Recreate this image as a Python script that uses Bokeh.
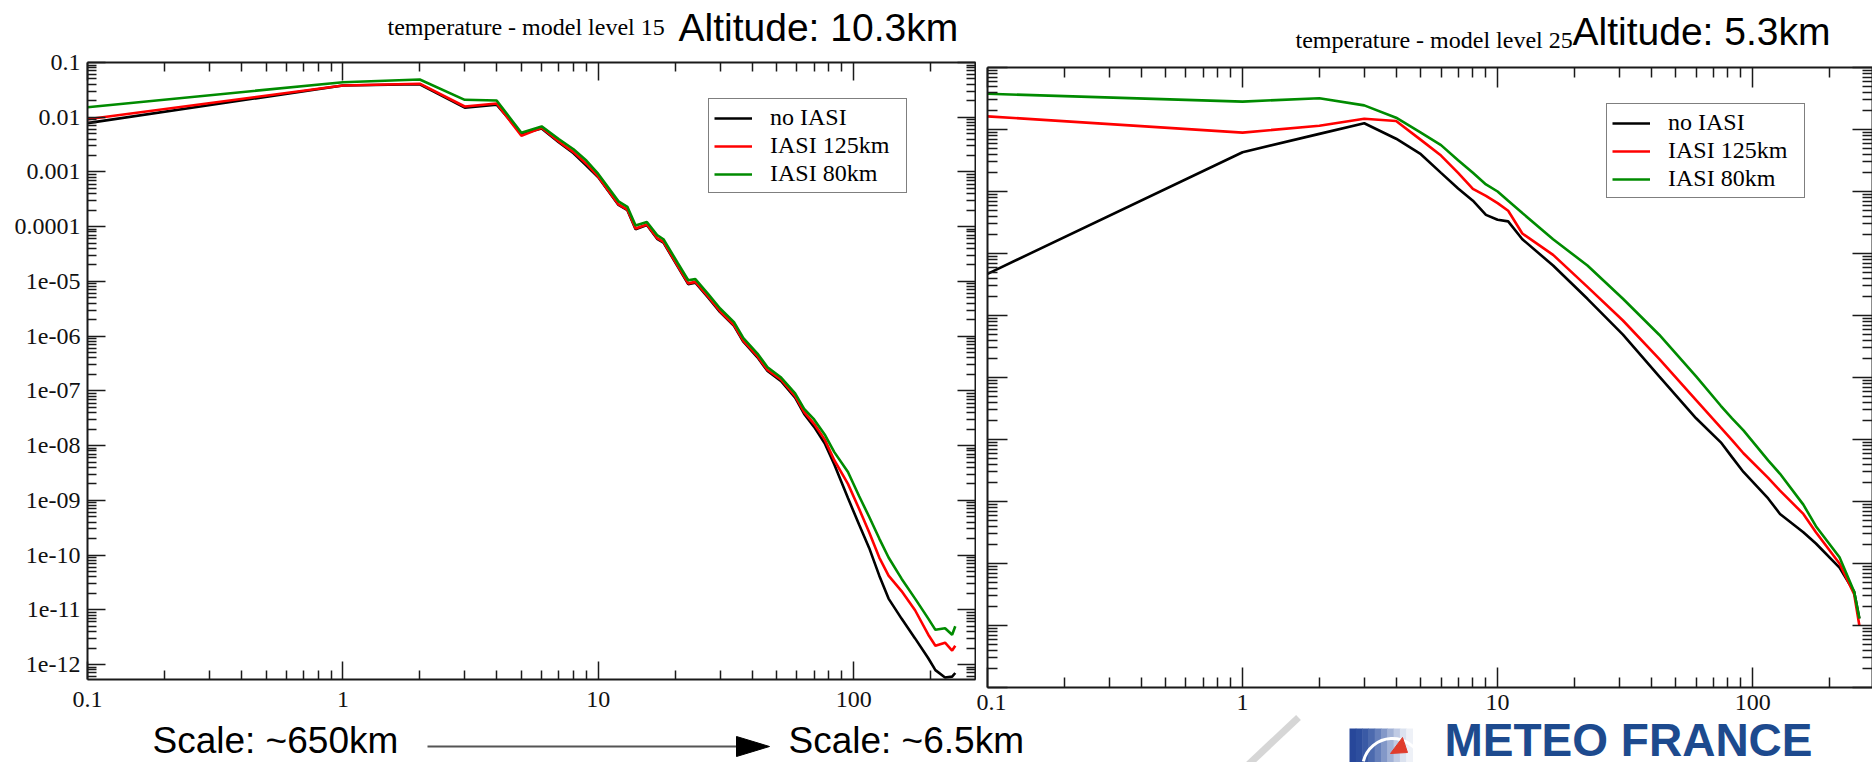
from bokeh.plotting import figure
from bokeh.models import (Range1d, LogAxis, FixedTicker, Legend, LegendItem,
                          CustomJSTickFormatter, CustomLabelingPolicy, GridBox)
from bokeh.embed import file_html
from bokeh.resources import INLINE
from bokeh.core.properties import value

# ---------------- data ----------------
SERIES = ["no IASI", "IASI 125km", "IASI 80km"]
COLORS = ["#000000", "#ff0000", "#008b00"]

X_TICKS = [0.1, 1, 10, 100]
X_LABELS = ["0.1", "1", "10", "100"]
Y_LABELS_L = ["0.1", "0.01", "0.001", "0.0001", "1e-05", "1e-06", "1e-07",
              "1e-08", "1e-09", "1e-10", "1e-11", "1e-12"]
Y_DECADES_R = [0.1, 0.01, 0.001, 1e-4, 1e-5, 1e-6, 1e-7, 1e-8, 1e-9, 1e-10, 1e-11]

TITLE_L = ["temperature - model level 15", "Altitude: 10.3km"]
TITLE_R = ["temperature - model level 25", "Altitude: 5.3km"]
SCALE_TEXT = ["Scale: ~650km", "Scale: ~6.5km"]
LOGO_TEXT = "METEO FRANCE"

# left panel : model level 15
K_L = [0.1, 1, 2, 3, 4, 5, 6, 7, 8, 9, 10,
       12, 13, 14, 15.5, 17, 18, 20.5, 22.5, 24, 27,
       30, 34, 37, 42, 46, 52, 59, 64, 70, 77,
       84, 95, 105, 115, 126, 137, 154, 174, 196, 209,
       228, 243, 250]
L_NO_IASI = [0.0078, 0.038, 0.040, 0.0150, 0.0170, 0.0050, 0.0062, 0.0035, 0.0022, 0.0013, 8.0e-4,
             2.5e-4, 2.0e-4, 9.0e-5, 1.07e-4, 6.0e-5, 5.1e-5, 1.85e-5, 8.9e-6, 9.5e-6, 5.0e-6,
             2.75e-6, 1.55e-6, 7.9e-7, 4.1e-7, 2.3e-7, 1.5e-7, 7.5e-8, 3.8e-8, 2.2e-8, 1.1e-8,
             4.5e-9, 1.1e-9, 3.6e-10, 1.35e-10, 4.2e-11, 1.6e-11, 6.9e-12, 3.0e-12, 1.3e-12, 7.9e-13,
             5.8e-13, 6.0e-13, 7.0e-13]
L_IASI_125 = [0.0092, 0.038, 0.041, 0.0157, 0.0178, 0.0046, 0.0064, 0.0036, 0.0023, 0.0014, 8.2e-4,
              2.55e-4, 2.05e-4, 9.3e-5, 1.1e-4, 6.2e-5, 5.3e-5, 1.9e-5, 9.2e-6, 9.8e-6, 5.2e-6,
              2.85e-6, 1.6e-6, 8.2e-7, 4.3e-7, 2.4e-7, 1.6e-7, 8.0e-8, 4.1e-8, 2.5e-8, 1.3e-8,
              5.4e-9, 2.0e-9, 7.0e-10, 2.6e-10, 9.0e-11, 4.2e-11, 2.2e-11, 9.8e-12, 3.5e-12, 2.2e-12,
              2.5e-12, 1.8e-12, 2.2e-12]
L_IASI_80 = [0.0152, 0.0437, 0.0489, 0.0208, 0.0202, 0.0052, 0.0068, 0.0040, 0.0026, 0.0016, 9.2e-4,
             2.9e-4, 2.3e-4, 1.05e-4, 1.22e-4, 7.0e-5, 5.9e-5, 2.15e-5, 1.05e-5, 1.1e-5, 5.8e-6,
             3.2e-6, 1.8e-6, 9.2e-7, 4.8e-7, 2.7e-7, 1.75e-7, 9.0e-8, 4.7e-8, 3.0e-8, 1.6e-8,
             7.6e-9, 3.3e-9, 1.2e-9, 5.0e-10, 2.0e-10, 9.0e-11, 3.7e-11, 1.6e-11, 6.9e-12, 4.3e-12,
             4.6e-12, 3.5e-12, 5.0e-12]

# right panel : model level 25
K_R = [0.1, 1, 2, 3, 4, 5, 6, 7, 8, 9, 10, 11, 12.5, 16.5, 22.5, 31, 43, 60,
       75, 83, 92, 115, 128, 158, 177, 219, 250, 262]
R_NO_IASI = [4.7e-5, 4.3e-3, 8.5e-3, 0.0126, 7.1e-3, 4.0e-3, 2.0e-3, 1.12e-3, 7.1e-4, 4.2e-4,
             3.5e-4, 3.3e-4, 1.7e-4, 6.4e-5, 1.86e-5, 4.9e-6, 1.04e-6, 2.2e-7, 9.0e-8, 5.2e-8,
             3.0e-8, 1.12e-8, 6.3e-9, 3.2e-9, 2.1e-9, 8.6e-10, 3.5e-10, 1.3e-10]
R_IASI_125 = [0.0163, 0.0089, 0.0115, 0.0149, 0.0137, 0.0068, 0.0038, 0.0020, 0.0011, 8.5e-4,
              6.5e-4, 4.9e-4, 2.1e-4, 9.5e-5, 2.9e-5, 8.3e-6, 2.0e-6, 4.3e-7, 1.55e-7, 9.8e-8,
              6.0e-8, 2.4e-8, 1.5e-8, 6.3e-9, 3.2e-9, 1.0e-9, 3.2e-10, 1.0e-10]
R_IASI_80 = [0.0377, 0.0282, 0.032, 0.0245, 0.0155, 0.0089, 5.6e-3, 3.2e-3, 2.0e-3, 1.3e-3,
             1.0e-3, 7.1e-4, 4.5e-4, 1.7e-4, 6.4e-5, 1.86e-5, 4.9e-6, 1.04e-6, 3.5e-7, 2.2e-7,
             1.4e-7, 4.6e-8, 2.8e-8, 8.9e-9, 4.0e-9, 1.26e-9, 3.5e-10, 1.3e-10]

# ---------------- helpers ----------------
FRAME = "#1a1a1a"


def minors(decades, lo, hi):
    ds = sorted(set(list(decades) + [min(decades) / 10.0]))
    out = []
    for d in ds:
        for m in range(2, 10):
            v = m * d
            if lo <= v <= hi:
                out.append(v)
    return out


def fmt(tvals, tlabels):
    return CustomJSTickFormatter(args=dict(tv=list(tvals), tl=list(tlabels)), code="""
        let best = 0, bd = Infinity;
        for (let i = 0; i < tv.length; i++) {
            const d = Math.abs(Math.log10(tick) - Math.log10(tv[i]));
            if (d < bd) { bd = d; best = i; }
        }
        return tl[best];
    """)


def style_axis(ax, ticks, minor, labels, show, major_len, minor_len, standoff):
    ax.ticker = FixedTicker(ticks=ticks, minor_ticks=minor)
    ax.formatter = fmt(ticks, labels)
    ax.axis_line_color = FRAME
    ax.axis_line_width = 2
    ax.major_tick_line_color = FRAME
    ax.major_tick_line_width = 1.5
    ax.minor_tick_line_color = FRAME
    ax.minor_tick_line_width = 1.5
    ax.major_tick_in = major_len
    ax.major_tick_out = 0
    ax.minor_tick_in = minor_len
    ax.minor_tick_out = 0
    ax.major_label_text_font = "Liberation Serif"
    ax.major_label_text_color = "#111111"
    if show:
        ax.major_label_text_font_size = "24px"
        ax.major_label_standoff = standoff
    else:
        ax.major_label_text_font_size = "0px"
        ax.major_label_standoff = 0
        ax.major_label_policy = CustomLabelingPolicy(code="return []")


def panel(width, height, x_max, y_min, y_max, mb, y_ticks, y_labels, show_y,
          ks, series, legend_loc, major_len, minor_len, x_standoff):
    p = figure(width=width, height=height, x_axis_type="log", y_axis_type="log",
               x_range=Range1d(X_TICKS[0], x_max), y_range=Range1d(y_min, y_max),
               output_backend="svg", toolbar_location=None, frame_align=False,
               min_border_left=mb[0], min_border_right=mb[1],
               min_border_top=mb[2], min_border_bottom=mb[3])
    p.grid.visible = False
    p.outline_line_color = None
    p.background_fill_alpha = 0
    p.border_fill_alpha = 0
    p.add_layout(LogAxis(), "above")
    p.add_layout(LogAxis(), "right")
    xminor = minors(X_TICKS, X_TICKS[0], x_max)
    yminor = minors(y_ticks, y_min, y_max)
    style_axis(p.below[0], X_TICKS, xminor, X_LABELS, True, major_len, minor_len, x_standoff)
    style_axis(p.above[0], X_TICKS, xminor, X_LABELS, False, major_len, minor_len, 0)
    style_axis(p.left[0], y_ticks, yminor, y_labels, show_y, major_len, minor_len, 7)
    style_axis(p.right[0], y_ticks, yminor, y_labels, False, major_len, minor_len, 0)

    items = []
    for name, col, vals in zip(SERIES, COLORS, series):
        r = p.line(ks, vals, line_color=col, line_width=2.6)
        items.append(LegendItem(label=name, renderers=[r]))
    leg = Legend(items=items, location=legend_loc, margin=0, padding=5, spacing=1,
                 glyph_width=38, glyph_height=26, label_height=26, label_width=131,
                 label_standoff=18, border_line_color="#000000", border_line_width=1.5,
                 background_fill_color="white", background_fill_alpha=1.0,
                 label_text_font="Liberation Serif", label_text_font_size="24px",
                 label_text_color="#000000")
    p.add_layout(leg)
    return p


# ---------------- panels (page = 1872 x 762) ----------------
left = panel(976, 762, 300, 10 ** -12.274, 0.1, (87, 1, 62, 83),
             [float(t) for t in Y_LABELS_L], Y_LABELS_L, True,
             K_L, [L_NO_IASI, L_IASI_125, L_IASI_80], (621, 486), 18, 9, 12)
right = panel(896, 762, 295, Y_DECADES_R[-1], Y_DECADES_R[0], (11, 0, 67, 75),
              Y_DECADES_R, ["" for _ in Y_DECADES_R], False,
              K_R, [R_NO_IASI, R_IASI_125, R_IASI_80], (619, 489), 20, 10, 7)

# ---------------- background sheet: titles, scale arrow, logo ----------------
bg = figure(width=1872, height=762, x_range=Range1d(0, 1872), y_range=Range1d(762, 0),
            output_backend="svg", toolbar_location=None, min_border=0, frame_align=False,
            x_axis_location=None, y_axis_location=None)
bg.grid.visible = False
bg.outline_line_color = None

bg.text(x=[387, 1295], y=[26, 39], text=[TITLE_L[0], TITLE_R[0]],
        text_font=value("Liberation Serif"), text_font_size=value("24px"),
        text_color="#000000", text_baseline="alphabetic", text_align="left")
bg.text(x=[678, 1572], y=[27, 31], text=[TITLE_L[1], TITLE_R[1]],
        text_font=value("Liberation Sans"), text_font_size=value("39px"),
        text_color="#000000", text_baseline="alphabetic", text_align="left")

bg.text(x=[152, 788], y=[740, 740], text=SCALE_TEXT,
        text_font=value("Liberation Sans"), text_font_size=value("37px"),
        text_color="#000000", text_baseline="alphabetic", text_align="left")
bg.segment(x0=[427], y0=[746], x1=[740], y1=[746], line_width=2, line_color="#555555")
bg.patch([736, 769, 736], [736, 746, 756], color="#000000")

# logo
bg.line([1298, 1248], [717, 764], line_width=7, line_color="#d2d2d2", line_alpha=0.9)
strip_cols = ["#27479a", "#2d4e9e", "#3a5aa5", "#4c6aae", "#6680bb", "#8398c8",
              "#a2b2d6", "#c0cbe4", "#dbe2ef", "#eef1f7"]
w = 63 / len(strip_cols)
bg.quad(left=[1349 + i * w for i in range(len(strip_cols))],
        right=[1349 + (i + 1) * w + 0.5 for i in range(len(strip_cols))],
        top=[728] * len(strip_cols), bottom=[764] * len(strip_cols),
        fill_color=strip_cols, line_color=None)
bg.arc(x=[1392], y=[768], radius=30, start_angle=0.35, end_angle=2.9,
       line_color="white", line_width=3, radius_units="screen")
bg.patch([1390, 1407, 1402], [753, 752, 737], color="#e03c2c")
bg.text(x=[1444], y=[739], text=[LOGO_TEXT], text_font=value("Liberation Sans"),
        text_font_size=value("46px"), text_font_style="bold",
        text_color="#1d4a8e", text_baseline="alphabetic", text_align="left")

layout = GridBox(children=[(bg, 0, 0, 1, 2), (left, 0, 0, 1, 1), (right, 0, 1, 1, 1)],
                 rows=["762px"], cols=["976px", "896px"])

with open("out.html", "w") as f:
    f.write(file_html(layout, INLINE))
